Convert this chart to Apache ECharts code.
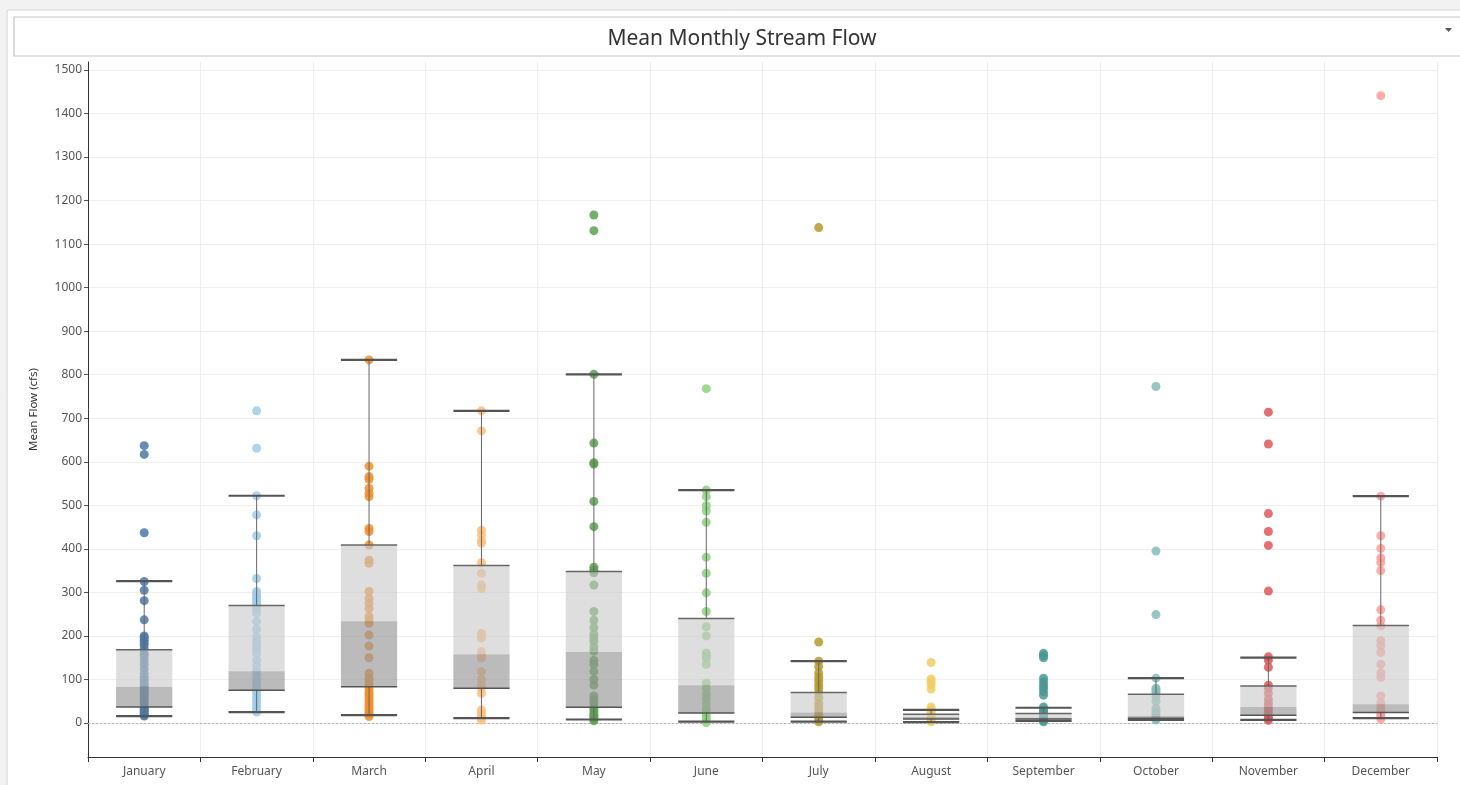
<!DOCTYPE html>
<html>
<head>
<meta charset="utf-8">
<title>Mean Monthly Stream Flow</title>
<script src="https://cdn.jsdelivr.net/npm/echarts@6/dist/echarts.min.js"></script>
<style>
html, body { margin: 0; padding: 0; background: #fff; }
#chart { width: 1460px; height: 785px; }
</style>
</head>
<body>
<div id="chart"></div>
<script>
// months on the x axis
const months = ['January', 'February', 'March', 'April', 'May', 'June',
    'July', 'August', 'September', 'October', 'November', 'December'];
// y axis ticks
const yMin = 0;
const yMax = 1500;
const yStep = 100;

// mean flow per year, one list per month (cfs)
const janFlow = [637, 617, 437, 325, 305, 281, 237, 200, 196, 190, 184, 179, 170, 160, 155, 145, 135, 125, 114, 105, 99, 92, 86, 80, 74, 68, 62, 56, 49, 44, 38, 34, 30, 26, 22, 19, 16];
const febFlow = [717, 631, 522, 478, 430, 332, 302, 295, 290, 283, 277, 271, 262, 252, 233, 215, 198, 188, 179, 170, 160, 145, 133, 120, 110, 100, 94, 87, 80, 75, 68, 60, 53, 45, 37, 30, 25];
const marFlow = [834, 590, 566, 560, 539, 528, 520, 447, 440, 409, 374, 367, 302, 286, 275, 263, 245, 237, 229, 202, 177, 150, 114, 103, 95, 87, 80, 72, 66, 60, 55, 49, 43, 37, 31, 26, 20, 15];
const aprFlow = [717, 671, 443, 432, 420, 413, 368, 344, 317, 309, 206, 200, 195, 164, 155, 149, 118, 100, 87, 80, 68, 30, 22, 15, 11, 7];
const mayFlow = [1167, 1131, 801, 643, 598, 595, 509, 451, 358, 351, 345, 317, 256, 236, 219, 204, 195, 187, 175, 165, 144, 135, 118, 100, 87, 62, 53, 45, 36, 30, 23, 18, 14, 10, 5];
const junFlow = [768, 535, 520, 499, 487, 461, 381, 344, 299, 256, 221, 200, 161, 155, 148, 135, 92, 80, 66, 56, 44, 31, 22, 14, 8, 1];
const julFlow = [1138, 186, 142, 130, 115, 105, 97, 88, 80, 70, 58, 45, 37, 28, 20, 14, 7, 3];
const augFlow = [139, 101, 95, 88, 78, 37, 30, 24, 18, 12, 8, 3];
const sepFlow = [160, 155, 150, 103, 95, 87, 80, 72, 64, 37, 30, 26, 20, 15, 10, 6, 3];
const octFlow = [773, 395, 249, 103, 80, 75, 70, 60, 50, 34, 28, 22, 15, 10, 7];
const novFlow = [714, 641, 481, 440, 408, 303, 152, 144, 128, 87, 80, 68, 55, 46, 38, 31, 24, 15, 10, 6];
const decFlow = [1441, 521, 430, 401, 379, 368, 350, 260, 236, 223, 189, 178, 162, 135, 115, 105, 62, 46, 36, 28, 20, 14, 9];

// box plot stats per month
const lowWhisker = [16, 25, 18, 11, 8, 3, 3, 2, 5, 7, 7, 11];
const q1 = [37, 75, 83, 80, 36, 23, 13, 9, 9, 11, 18, 24];
const median = [83, 119, 234, 158, 163, 87, 24, 14, 12, 16, 37, 43];
const q3 = [168, 270, 409, 362, 348, 240, 70, 20, 22, 66, 85, 224];
const highWhisker = [326, 522, 834, 717, 801, 535, 142, 30, 35, 103, 150, 521];

const monthFlows = [janFlow, febFlow, marFlow, aprFlow, mayFlow, junFlow,
    julFlow, augFlow, sepFlow, octFlow, novFlow, decFlow];
// tableau 20 colours
const colors = ['#4e79a7', '#a0cbe8', '#f28e2b', '#ffbe7d', '#59a14f', '#8cd17d',
    '#b6992d', '#f1ce63', '#499894', '#86bcb6', '#e15759', '#ff9d9a'];

const myChart = echarts.init(document.getElementById('chart'));

// points, one scatter series per month
const pointSeries = monthFlows.map((list, i) => ({
    name: months[i],
    type: 'scatter',
    xAxisIndex: 0,
    yAxisIndex: 0,
    symbolSize: 9,
    itemStyle: { color: colors[i], opacity: 0.85 },
    data: list.map(v => [i, v]),
    z: 3,
}));

const boxData = months.map((m, i) => [i, lowWhisker[i], q1[i], median[i], q3[i], highWhisker[i]]);

// two-tone box with whiskers, drawn on top of the points
const renderBox = (params, api) => {
    const i = api.value(0);
    const half = api.size([1, 0])[0] * 0.25;
    const pLow = api.coord([i, api.value(1)]);
    const pQ1 = api.coord([i, api.value(2)]);
    const pMed = api.coord([i, api.value(3)]);
    const pQ3 = api.coord([i, api.value(4)]);
    const pHigh = api.coord([i, api.value(5)]);
    const x = pMed[0];
    const line = (y1, y2, x1, x2, w, c) => ({
        type: 'line',
        shape: { x1: x1, y1: y1, x2: x2, y2: y2 },
        style: { stroke: c, lineWidth: w },
    });
    return {
        type: 'group',
        children: [
            line(pQ3[1], pHigh[1], x, x, 1, '#666'),
            line(pLow[1], pQ1[1], x, x, 1, '#666'),
            {
                type: 'rect',
                shape: { x: x - half, y: pQ3[1], width: half * 2, height: pMed[1] - pQ3[1] },
                style: { fill: 'rgba(200,200,200,0.6)' },
            },
            {
                type: 'rect',
                shape: { x: x - half, y: pMed[1], width: half * 2, height: pQ1[1] - pMed[1] },
                style: { fill: 'rgba(150,150,150,0.65)' },
            },
            line(pQ3[1], pQ3[1], x - half, x + half, 1.5, '#666'),
            line(pQ1[1], pQ1[1], x - half, x + half, 1.5, '#555'),
            line(pHigh[1], pHigh[1], x - half, x + half, 2.2, '#555'),
            line(pLow[1], pLow[1], x - half, x + half, 2.2, '#555'),
        ],
    };
};

const options = {
    backgroundColor: '#fff',
    animation: false,
    title: {
        text: 'Mean Monthly Stream Flow',
        left: 737,
        textAlign: 'center',
        top: 24,
        textStyle: { fontFamily: 'Noto Sans', fontSize: 21, fontWeight: 'normal', color: '#333' },
    },
    graphic: [
        // frame around the sheet
        { type: 'rect', shape: { x: 0, y: 0, width: 1460, height: 9 }, style: { fill: '#f2f2f2' }, silent: true },
        { type: 'rect', shape: { x: 0, y: 0, width: 6, height: 785 }, style: { fill: '#f2f2f2' }, silent: true },
        { type: 'line', shape: { x1: 7, y1: 10, x2: 1460, y2: 10 }, style: { stroke: '#cfcfcf', lineWidth: 1 }, silent: true },
        { type: 'line', shape: { x1: 7, y1: 10, x2: 7, y2: 785 }, style: { stroke: '#cfcfcf', lineWidth: 1 }, silent: true },
        // title box
        { type: 'rect', shape: { x: 14, y: 17, width: 1460, height: 39 }, style: { fill: 'none', stroke: '#c6c6c6', lineWidth: 1.2 }, silent: true },
        // dropdown arrow
        { type: 'polygon', shape: { points: [[1445, 28], [1452, 28], [1448.5, 32]] }, style: { fill: '#555' }, silent: true },
    ],
    grid: [
        { left: 88, right: 23, top: 70, bottom: 62 },
        { left: 88, right: 23, top: 62, bottom: 28 },
    ],
    xAxis: [
        {
            type: 'category',
            gridIndex: 0,
            data: months,
            axisLine: { lineStyle: { color: '#b5b5b5', type: [2, 2], width: 1 } },
            axisTick: { show: false },
            axisLabel: { show: false },
            splitLine: { show: false },
        },
        {
            type: 'category',
            gridIndex: 1,
            data: months,
            axisLine: { lineStyle: { color: '#333', width: 1 } },
            axisTick: { show: true, length: 5, lineStyle: { color: '#333' } },
            axisLabel: { fontFamily: 'Noto Sans', fontSize: 12, color: '#555', margin: 9 },
            splitLine: { show: true, lineStyle: { color: '#ededed', width: 1 } },
        },
    ],
    yAxis: [
        {
            type: 'value',
            gridIndex: 0,
            min: yMin,
            max: yMax,
            interval: yStep,
            axisLine: { show: false },
            axisTick: { show: true, length: 4, lineStyle: { color: '#555' } },
            axisLabel: { fontFamily: 'Noto Sans', fontSize: 12, color: '#555', margin: 6, formatter: v => String(v) },
            splitLine: { show: true, showMinLine: false, lineStyle: { color: '#efefef', width: 1 } },
        },
        {
            type: 'value',
            gridIndex: 1,
            min: 0,
            max: 1,
            name: 'Mean Flow (cfs)',
            nameLocation: 'middle',
            nameGap: 48,
            nameTextStyle: { fontFamily: 'Noto Sans', fontSize: 11.5, color: '#333' },
            axisLine: { show: true, lineStyle: { color: '#333', width: 1 } },
            axisTick: { show: false },
            axisLabel: { show: false },
            splitLine: { show: false },
        },
    ],
    series: [
        ...pointSeries,
        {
            name: 'box',
            type: 'custom',
            xAxisIndex: 0,
            yAxisIndex: 0,
            renderItem: renderBox,
            data: boxData,
            z: 4,
        },
    ],
};

myChart.setOption(options);
</script>
</body>
</html>
